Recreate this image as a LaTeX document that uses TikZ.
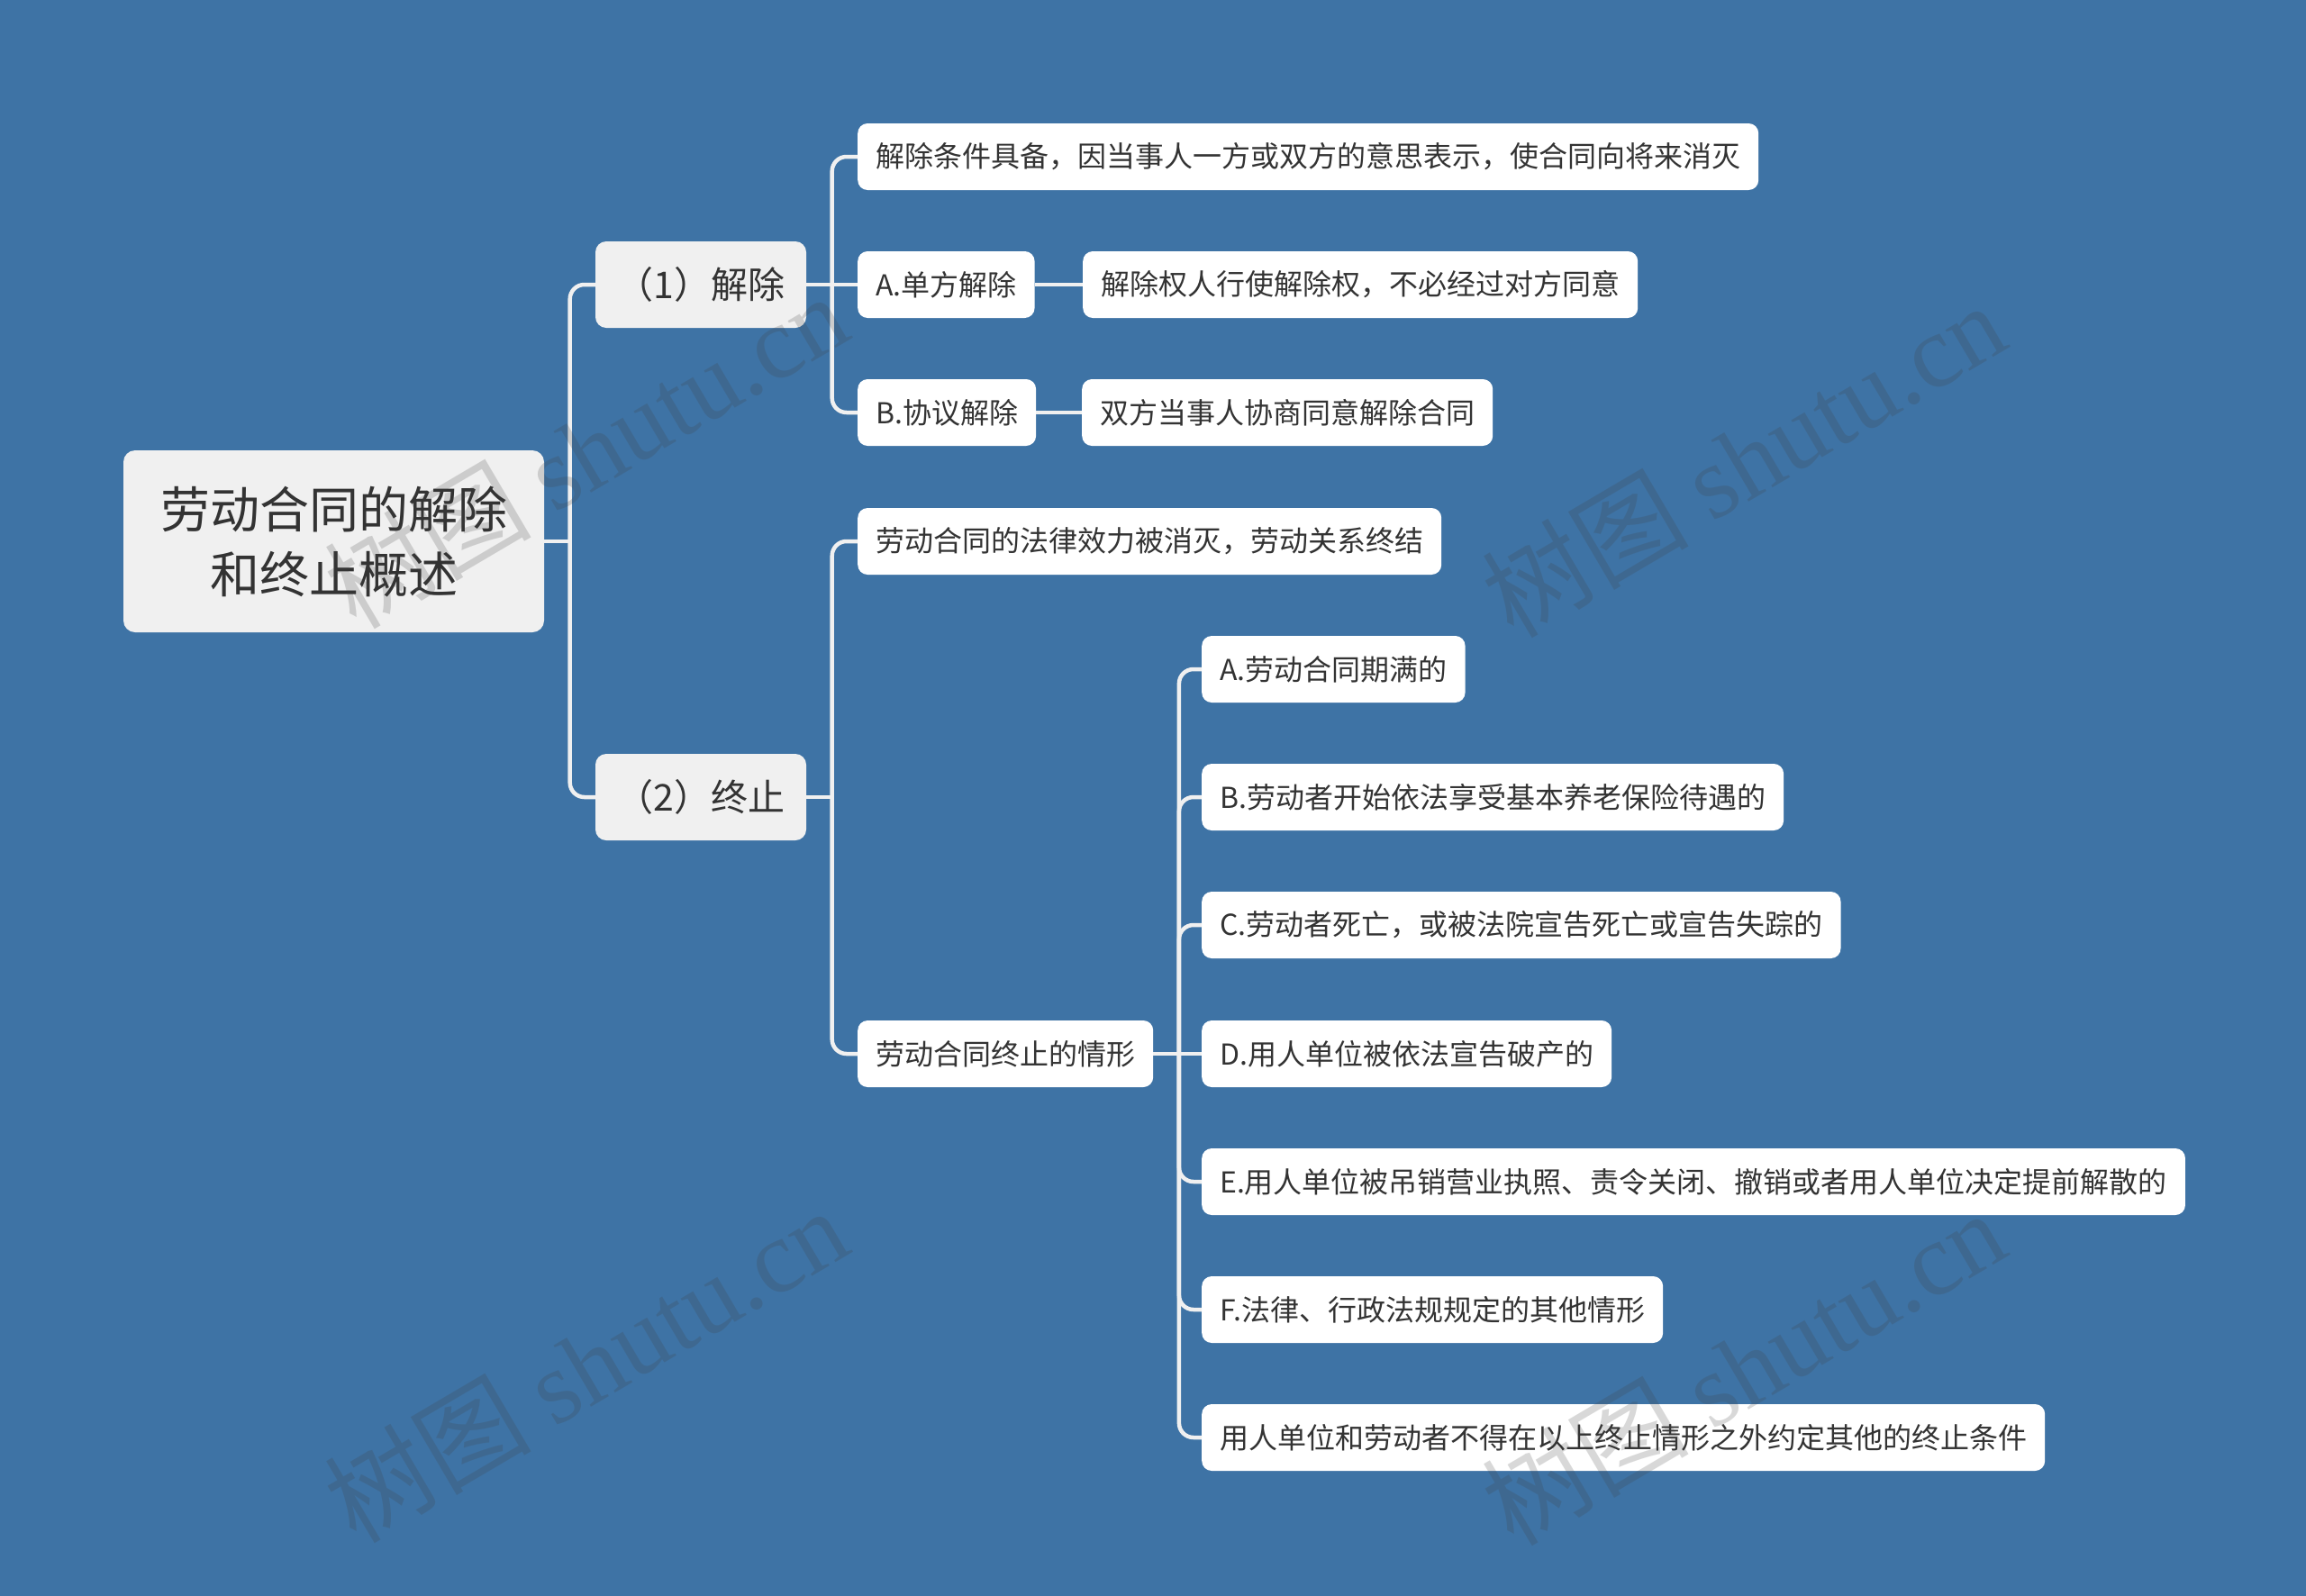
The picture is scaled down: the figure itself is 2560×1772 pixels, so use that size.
\documentclass[tikz,border=0pt]{standalone}
\usepackage{fontspec}
\setmainfont{Noto Sans CJK SC}
\newfontfamily\wmcjk{Noto Sans CJK SC}
\newfontfamily\wmlat{Liberation Serif}
\usetikzlibrary{calc}
\definecolor{bg}{HTML}{3E73A5}
\definecolor{linec}{HTML}{F0F0F0}
\definecolor{txt}{HTML}{333333}
\definecolor{graybox}{HTML}{F0F0F0}
\begin{document}
\begin{tikzpicture}[x=1pt,y=-1pt,
 rootbox/.style={fill=graybox, rounded corners=13pt, minimum width=467pt, minimum height=202pt, align=center, text=txt, font=\fontsize{55}{72}\selectfont, inner sep=0pt},
 lonebox/.style={fill=graybox, rounded corners=12pt, minimum width=234pt, minimum height=96pt, text=txt, font=\fontsize{41}{49}\selectfont, inner sep=0pt},
 leaf/.style={fill=white, rounded corners=11pt, minimum height=74pt, inner xsep=20pt, inner ysep=0pt, text=txt, font=\fontsize{32}{38}\selectfont, anchor=west},
 conn/.style={draw=linec, line width=4.5pt},
 elbow/.style={conn, rounded corners=16pt},
 wm/.style={text=black!75, opacity=0.2, rotate=30.5, font=\fontsize{115}{115}\selectfont}
]
\fill[bg] (0,0) rectangle (2560,1772);
\useasboundingbox (0,0) rectangle (2560,1772);

% nodes
\node[rootbox] (root) at (370.5,601) {劳动合同的解除\\和终止概述};
\node[lonebox] (jc) at (778,316) {（1）解除};
\node[lonebox] (zz) at (778,885) {（2）终止};

\node[leaf] (jc1) at (952,174) {解除条件具备，因当事人一方或双方的意思表示，使合同向将来消灭};
\node[leaf] (jc2) at (952,316) {A.单方解除};
\node[leaf] (jc2a) at (1202,316) {解除权人行使解除权，不必经过对方同意};
\node[leaf] (jc3) at (952,458) {B.协议解除};
\node[leaf] (jc3a) at (1201,458) {双方当事人协商同意解除合同};

\node[leaf] (zz1) at (952,601) {劳动合同的法律效力被消灭，劳动关系终结};
\node[leaf] (zz2) at (952,1170) {劳动合同终止的情形};

\node[leaf] (qa) at (1334,743) {A.劳动合同期满的};
\node[leaf] (qb) at (1334,885) {B.劳动者开始依法享受基本养老保险待遇的};
\node[leaf] (qc) at (1334,1027) {C.劳动者死亡，或被法院宣告死亡或宣告失踪的};
\node[leaf] (qd) at (1334,1170) {D.用人单位被依法宣告破产的};
\node[leaf] (qe) at (1334,1312) {E.用人单位被吊销营业执照、责令关闭、撤销或者用人单位决定提前解散的};
\node[leaf] (qf) at (1334,1454) {F.法律、行政法规规定的其他情形};
\node[leaf] (qg) at (1334,1596) {用人单位和劳动者不得在以上终止情形之外约定其他的终止条件};

% connectors
\coordinate (rJ) at ($(root.east)+(28.5,0)$);
\draw[conn] (root.east) -- (rJ);
\draw[elbow] (rJ) |- (jc.west);
\draw[elbow] (rJ) |- (zz.west);

\coordinate (jcJ) at ($(jc.east)+(28.5,0)$);
\draw[conn] (jc.east) -- (jcJ);
\draw[elbow] (jcJ) |- (jc1.west);
\draw[conn] (jcJ) -- (jc2.west);
\draw[elbow] (jcJ) |- (jc3.west);
\draw[conn] (jc2.east) -- (jc2a.west);
\draw[conn] (jc3.east) -- (jc3a.west);

\coordinate (zzJ) at ($(zz.east)+(28.5,0)$);
\draw[conn] (zz.east) -- (zzJ);
\draw[elbow] (zzJ) |- (zz1.west);
\draw[elbow] (zzJ) |- (zz2.west);

\coordinate (qJ) at ($(zz2.east)+(28.5,0)$);
\draw[conn] (zz2.east) -- (qJ);
\draw[elbow] (qJ) |- (qa.west);
\draw[elbow] (qJ) |- (qb.west);
\draw[elbow] (qJ) |- (qc.west);
\draw[conn] (qJ) -- (qd.west);
\draw[elbow] (qJ) |- (qe.west);
\draw[elbow] (qJ) |- (qf.west);
\draw[elbow] (qJ) |- (qg.west);

% watermarks
\node[wm] (wm1) at (650,500) {{\wmcjk 树图} {\wmlat shutu.cn}};
\node[wm] (wm2) at (1935,510) {{\wmcjk 树图} {\wmlat shutu.cn}};
\node[wm] (wm3) at (650,1515) {{\wmcjk 树图} {\wmlat shutu.cn}};
\node[wm] (wm4) at (1935,1518) {{\wmcjk 树图} {\wmlat shutu.cn}};
\end{tikzpicture}
\end{document}
